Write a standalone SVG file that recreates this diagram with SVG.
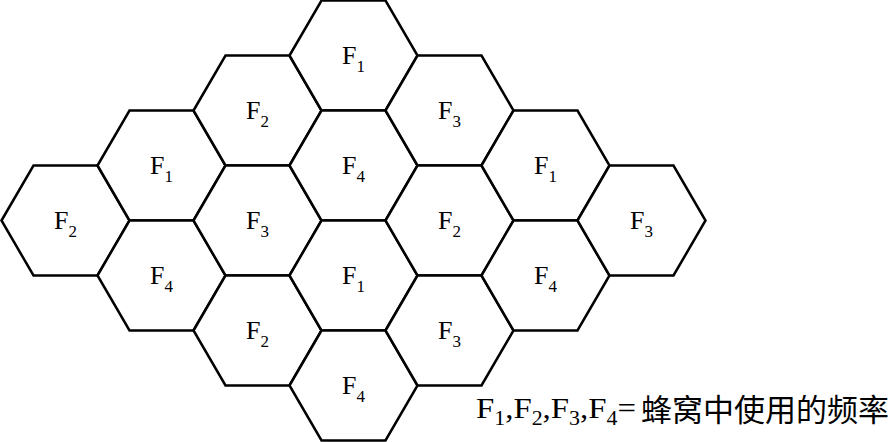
<svg xmlns="http://www.w3.org/2000/svg" xmlns:xlink="http://www.w3.org/1999/xlink" width="892" height="442" viewBox="0 0 892 442">
<style>
.cell{fill:#fff;stroke:#000;stroke-width:2.5;stroke-linejoin:miter}
.lbl{font-family:"Liberation Serif","Times New Roman",serif;font-size:26px;fill:#000;text-anchor:middle}
.sub{font-size:17px}
.leg{font-family:"Liberation Serif","Times New Roman",serif;font-size:30px;fill:#000}
.legs{font-size:20px}
.cjk{font-family:"Noto Sans CJK SC","Noto Sans CJK TC",sans-serif;font-size:31px;fill:#000}
</style>
<defs>
<polygon id="hex" points="-64,0 -32,-55 32,-55 64,0 32,55 -32,55"/>
</defs>
<rect width="892" height="442" fill="#fff"/>
<g id="c0" transform="translate(65.5,220.5)"><use xlink:href="#hex" class="cell"/><text class="lbl" y="8">F<tspan class="sub" dy="8">2</tspan></text></g>
<g id="c1a" transform="translate(161.5,165.5)"><use xlink:href="#hex" class="cell"/><text class="lbl" y="8">F<tspan class="sub" dy="8">1</tspan></text></g>
<g id="c1b" transform="translate(161.5,275.5)"><use xlink:href="#hex" class="cell"/><text class="lbl" y="8">F<tspan class="sub" dy="8">4</tspan></text></g>
<g id="c2a" transform="translate(257.5,110.5)"><use xlink:href="#hex" class="cell"/><text class="lbl" y="8">F<tspan class="sub" dy="8">2</tspan></text></g>
<g id="c2b" transform="translate(257.5,220.5)"><use xlink:href="#hex" class="cell"/><text class="lbl" y="8">F<tspan class="sub" dy="8">3</tspan></text></g>
<g id="c2c" transform="translate(257.5,330.5)"><use xlink:href="#hex" class="cell"/><text class="lbl" y="8">F<tspan class="sub" dy="8">2</tspan></text></g>
<g id="c3a" transform="translate(353.5,55.5)"><use xlink:href="#hex" class="cell"/><text class="lbl" y="8">F<tspan class="sub" dy="8">1</tspan></text></g>
<g id="c3b" transform="translate(353.5,165.5)"><use xlink:href="#hex" class="cell"/><text class="lbl" y="8">F<tspan class="sub" dy="8">4</tspan></text></g>
<g id="c3c" transform="translate(353.5,275.5)"><use xlink:href="#hex" class="cell"/><text class="lbl" y="8">F<tspan class="sub" dy="8">1</tspan></text></g>
<g id="c3d" transform="translate(353.5,385.5)"><use xlink:href="#hex" class="cell"/><text class="lbl" y="8">F<tspan class="sub" dy="8">4</tspan></text></g>
<g id="c4a" transform="translate(449.5,110.5)"><use xlink:href="#hex" class="cell"/><text class="lbl" y="8">F<tspan class="sub" dy="8">3</tspan></text></g>
<g id="c4b" transform="translate(449.5,220.5)"><use xlink:href="#hex" class="cell"/><text class="lbl" y="8">F<tspan class="sub" dy="8">2</tspan></text></g>
<g id="c4c" transform="translate(449.5,330.5)"><use xlink:href="#hex" class="cell"/><text class="lbl" y="8">F<tspan class="sub" dy="8">3</tspan></text></g>
<g id="c5a" transform="translate(545.5,165.5)"><use xlink:href="#hex" class="cell"/><text class="lbl" y="8">F<tspan class="sub" dy="8">1</tspan></text></g>
<g id="c5b" transform="translate(545.5,275.5)"><use xlink:href="#hex" class="cell"/><text class="lbl" y="8">F<tspan class="sub" dy="8">4</tspan></text></g>
<g id="c6" transform="translate(641.5,220.5)"><use xlink:href="#hex" class="cell"/><text class="lbl" y="8">F<tspan class="sub" dy="8">3</tspan></text></g>
<g id="connectors"></g>
<g id="legend">
<text class="leg" x="476" y="418" textLength="160" lengthAdjust="spacingAndGlyphs">F<tspan class="legs" dy="7">1</tspan><tspan dy="-7">,F</tspan><tspan class="legs" dy="7">2</tspan><tspan dy="-7">,F</tspan><tspan class="legs" dy="7">3</tspan><tspan dy="-7">,F</tspan><tspan class="legs" dy="7">4</tspan><tspan dy="-7">=</tspan></text>
<text class="cjk" x="641" y="421">蜂窝中使用的频率</text>
</g>
</svg>
